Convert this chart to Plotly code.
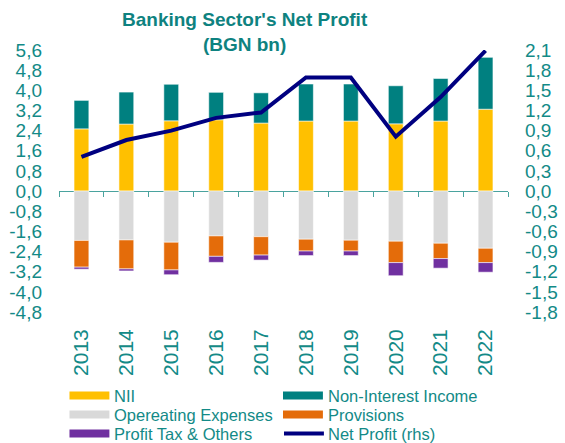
import plotly.graph_objects as go

# Banking sector income statement components, BGN bn
years = ["2013", "2014", "2015", "2016", "2017", "2018", "2019", "2020", "2021", "2022"]
nii = [2.47, 2.66, 2.79, 2.83, 2.70, 2.78, 2.78, 2.67, 2.78, 3.25]
non_interest_income = [1.13, 1.27, 1.45, 1.09, 1.20, 1.47, 1.47, 1.51, 1.69, 2.06]
operating_expenses = [-1.96, -1.94, -2.03, -1.78, -1.81, -1.91, -1.95, -1.99, -2.07, -2.27]
provisions = [-1.06, -1.15, -1.10, -0.81, -0.73, -0.47, -0.43, -0.85, -0.61, -0.57]
profit_tax_others = [-0.08, -0.08, -0.19, -0.24, -0.20, -0.18, -0.18, -0.52, -0.38, -0.38]
net_profit = [0.51, 0.76, 0.90, 1.09, 1.17, 1.69, 1.69, 0.81, 1.40, 2.09]

left_ticks = [round(k * 0.8, 1) for k in range(-6, 8)]
right_ticks = [round(k * 0.3, 1) for k in range(-6, 8)]

TEAL_TEXT = "#138A87"
TITLE_TEAL = "#0E8280"
AXIS_TEAL = "#4AA39E"
FONT = "Liberation Sans, Arial, sans-serif"

bar_series = [
    ("NII", nii, "#FFC000"),
    ("Non-Interest Income", non_interest_income, "#008080"),
    ("Opereating Expenses", operating_expenses, "#D9D9D9"),
    ("Provisions", provisions, "#E46C0A"),
    ("Profit Tax & Others", profit_tax_others, "#7030A0"),
]
line_name, line_color = "Net Profit (rhs)", "#000080"

# plot area in pixels
PL, PR, PT, PB = 58.5, 508.5, 50.0, 311.6
PW, PH = PR - PL, PB - PT


def px_x(x):
    return (x - PL) / PW


def px_y(y):
    return (PB - y) / PH


fig = go.Figure()
for name, vals, color in bar_series:
    fig.add_trace(go.Bar(
        x=years, y=vals, name=name, width=0.33,
        marker=dict(color=color, line=dict(color="rgba(255,255,255,0.55)", width=1)),
        showlegend=False,
    ))

fig.add_trace(go.Scatter(
    x=years, y=net_profit, name=line_name, yaxis="y2", mode="lines",
    line=dict(color=line_color, width=4), showlegend=False,
))

# zero line with category-boundary tick marks
fig.add_trace(go.Scatter(
    x=[-0.5, 9.5], y=[0, 0], xaxis="x2", mode="lines",
    line=dict(width=0), hoverinfo="skip", showlegend=False,
))

tick_font = dict(family=FONT, size=19, color=TEAL_TEXT)

fig.update_layout(
    width=565, height=443, autosize=False,
    margin=dict(l=PL, r=565 - PR, t=PT, b=443 - PB, pad=0),
    paper_bgcolor="white", plot_bgcolor="white",
    barmode="relative",
    font=dict(family=FONT, color=TEAL_TEXT),
    xaxis=dict(
        type="category", categoryorder="array", categoryarray=years,
        range=[-0.5, 9.5], showline=False, showgrid=False, zeroline=False,
        ticks="", tickangle=-90, tickfont=dict(family=FONT, size=21, color=TEAL_TEXT),
        ticklabelstandoff=12, automargin=False,
    ),
    xaxis2=dict(
        overlaying="x", anchor="free", position=4.8 / 10.4,
        range=[-0.5, 9.5], showline=True, linecolor=AXIS_TEAL, linewidth=1.3,
        ticks="outside", tickvals=[i - 0.5 for i in range(11)], ticklen=5,
        tickcolor=AXIS_TEAL, tickwidth=1.3, showticklabels=False,
        showgrid=False, zeroline=False, layer="below traces", automargin=False,
    ),
    yaxis=dict(
        range=[-4.8, 5.6], tickmode="array", tickvals=left_ticks,
        ticktext=[f"{v:.1f}".replace(".", ",") for v in left_ticks],
        showgrid=False, zeroline=False, showline=False, ticks="",
        tickfont=tick_font, ticklabelstandoff=16, automargin=False,
    ),
    yaxis2=dict(
        overlaying="y", side="right", range=[-1.8, 2.1], tickmode="array",
        tickvals=right_ticks,
        ticktext=[f"{v:.1f}".replace(".", ",") for v in right_ticks],
        showgrid=False, zeroline=False, showline=False, ticks="",
        tickfont=tick_font, ticklabelstandoff=16, automargin=False,
    ),
)

# chart title, two centred lines
fig.add_annotation(
    text="<b>Banking Sector's Net Profit<br>(BGN bn)</b>",
    xref="paper", yref="paper", x=px_x(245), y=px_y(32.5),
    xanchor="center", yanchor="middle", showarrow=False, align="center",
    font=dict(family=FONT, size=19, color=TITLE_TEAL),
)

# legend: two columns of swatches with labels
legend_entries = [(n, c, "bar") for n, _, c in bar_series] + [(line_name, line_color, "line")]
col_x = [69, 283]
row_y = [395, 414, 433]
for i, (name, color, kind) in enumerate(legend_entries):
    cx = col_x[i % 2]
    cy = row_y[i // 2]
    if kind == "bar":
        fig.add_shape(
            type="rect", xref="paper", yref="paper",
            x0=px_x(cx), x1=px_x(cx + 40),
            y0=px_y(cy + 4), y1=px_y(cy - 4),
            fillcolor=color, line=dict(width=0),
        )
    else:
        fig.add_shape(
            type="line", xref="paper", yref="paper",
            x0=px_x(cx + 1), x1=px_x(cx + 41),
            y0=px_y(cy), y1=px_y(cy),
            line=dict(color=color, width=4),
        )
    fig.add_annotation(
        text=name, xref="paper", yref="paper",
        x=px_x(cx + 43), y=px_y(cy),
        xanchor="left", yanchor="middle", showarrow=False,
        font=dict(family=FONT, size=16.5, color=TEAL_TEXT),
    )

fig.write_html("out.html")
